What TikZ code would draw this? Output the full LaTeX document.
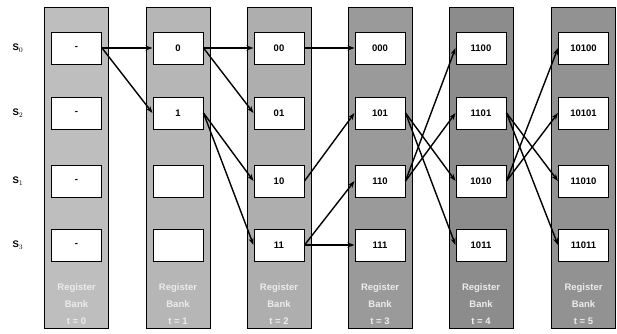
\documentclass[tikz,border=0pt]{standalone}
\usepackage{fontspec}
\setmainfont{Liberation Sans}
\usetikzlibrary{arrows.meta}
\begin{document}
\begin{tikzpicture}[x=1pt,y=-1pt,
  bankbox/.style={draw=black,line width=0.9pt,minimum width=64pt,minimum height=321pt,inner sep=0pt},
  reg/.style={draw=black,line width=1pt,fill=white,minimum width=50pt,minimum height=32pt,inner sep=0pt,font=\fontsize{9.5}{10}\selectfont\bfseries},
  banklabel/.style={align=center,font=\fontsize{9.5}{17}\selectfont\bfseries,text=white!85!gray},
  slabel/.style={font=\fontsize{9.5}{10}\selectfont\bfseries},
  conn/.style={line width=1.4pt,-{Stealth[length=7pt,width=5pt]}}]
\useasboundingbox (0,0) rectangle (617,333);
\definecolor{bk0}{HTML}{BEBEBE}
\definecolor{bk1}{HTML}{B6B6B6}
\definecolor{bk2}{HTML}{AEAEAE}
\definecolor{bk3}{HTML}{9A9A9A}
\definecolor{bk4}{HTML}{8C8C8C}
\definecolor{bk5}{HTML}{929292}
% banks
\foreach \i/\cx in {0/76.5,1/178,2/279,3/380,4/481,5/583.5}{
  \node[bankbox,fill=bk\i] (bank\i) at (\cx,167.5) {};
  \node[banklabel] (lab\i) at (\cx,304) {Register\\Bank\\t = \i};
}
% state labels
\node[slabel] (s0) at (18,48) {S$_0$};
\node[slabel] (s2) at (18,113) {S$_2$};
\node[slabel] (s1) at (18,181) {S$_1$};
\node[slabel] (s3) at (18,245) {S$_3$};
% registers
\node[reg] (a0) at (76.5,48) {-};
\node[reg] (a1) at (76.5,113) {-};
\node[reg] (a2) at (76.5,181) {-};
\node[reg] (a3) at (76.5,245) {-};
\node[reg] (b0) at (178,48) {0};
\node[reg] (b1) at (178,113) {1};
\node[reg] (b2) at (178,181) {};
\node[reg] (b3) at (178,245) {};
\node[reg] (c0) at (279,48) {00};
\node[reg] (c1) at (279,113) {01};
\node[reg] (c2) at (279,181) {10};
\node[reg] (c3) at (279,245) {11};
\node[reg] (d0) at (380,48) {000};
\node[reg] (d1) at (380,113) {101};
\node[reg] (d2) at (380,181) {110};
\node[reg] (d3) at (380,245) {111};
\node[reg] (e0) at (481,48) {1100};
\node[reg] (e1) at (481,113) {1101};
\node[reg] (e2) at (481,181) {1010};
\node[reg] (e3) at (481,245) {1011};
\node[reg] (f0) at (583.5,48) {10100};
\node[reg] (f1) at (583.5,113) {10101};
\node[reg] (f2) at (583.5,181) {11010};
\node[reg] (f3) at (583.5,245) {11011};
% connectors
\draw[conn] (a0.east) -- (b0.west);
\draw[conn] (a0.east) -- (b1.west);
\draw[conn] (b0.east) -- (c0.west);
\draw[conn] (b0.east) -- (c1.west);
\draw[conn] (b1.east) -- (c2.west);
\draw[conn] (b1.east) -- (c3.west);
\draw[conn] (c0.east) -- (d0.west);
\draw[conn] (c2.east) -- (d1.west);
\draw[conn] (c3.east) -- (d2.west);
\draw[conn] (c3.east) -- (d3.west);
\draw[conn] (d1.east) -- (e2.west);
\draw[conn] (d1.east) -- (e3.west);
\draw[conn] (d2.east) -- (e0.west);
\draw[conn] (d2.east) -- (e1.west);
\draw[conn] (e1.east) -- (f2.west);
\draw[conn] (e1.east) -- (f3.west);
\draw[conn] (e2.east) -- (f0.west);
\draw[conn] (e2.east) -- (f1.west);
\end{tikzpicture}
\end{document}
